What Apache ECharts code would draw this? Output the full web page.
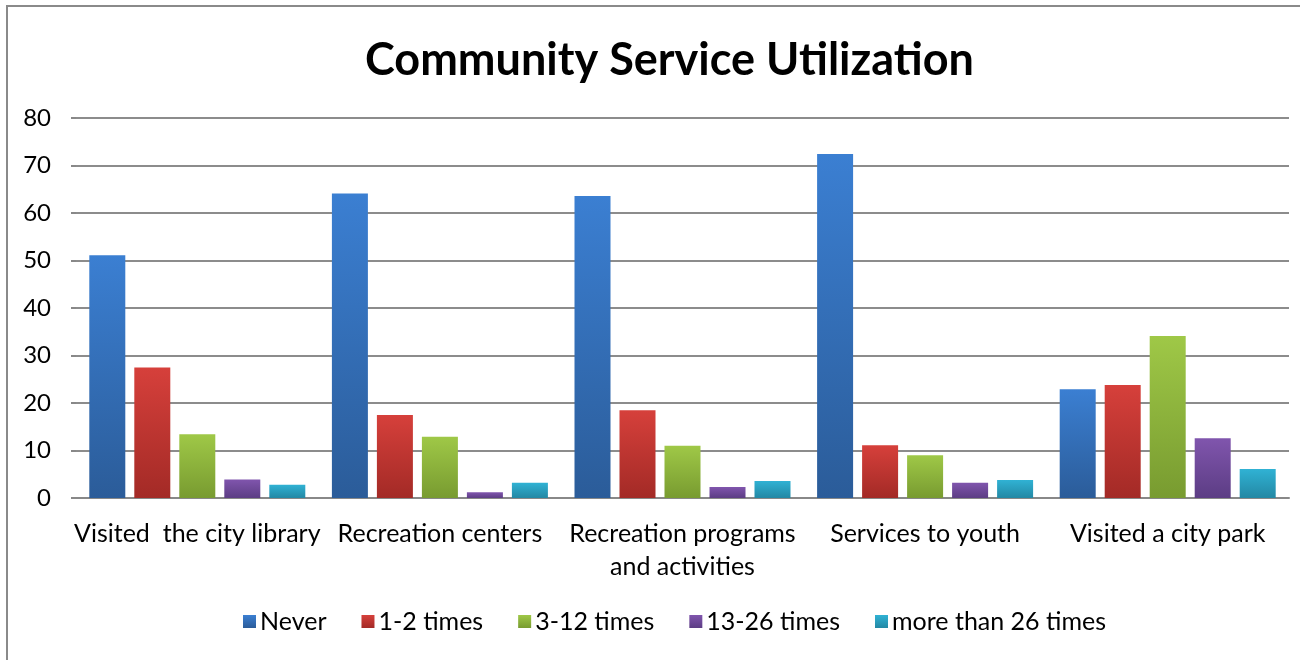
<!DOCTYPE html>
<html>
<head>
<meta charset="utf-8">
<title>Community Service Utilization</title>
<script src="https://cdn.jsdelivr.net/npm/echarts@6/dist/echarts.min.js"></script>
<style>
  html, body { margin: 0; padding: 0; background: #ffffff; }
  #chart { width: 1300px; height: 660px; }
</style>
</head>
<body>
<div id="chart"></div>
<script>
// Survey categories and frequency buckets
const categories = [
  'Visited  the city library',
  'Recreation centers',
  'Recreation programs\nand activities',
  'Services to youth',
  'Visited a city park'
];
const seriesNames = ['Never', '1-2 times', '3-12 times', '13-26 times', 'more than 26 times'];

// Percent of respondents per bucket, one array per frequency
const never       = [51.1, 64.1, 63.6, 72.4, 22.9];
const times1to2   = [27.5, 17.5, 18.5, 11.1, 23.8];
const times3to12  = [13.4, 12.9, 11.0,  9.0, 34.1];
const times13to26 = [ 3.9,  1.2,  2.3,  3.2, 12.6];
const over26      = [ 2.8,  3.2,  3.6,  3.8,  6.1];

const yTicks = { min: 0, max: 80, interval: 10 };

// Top/bottom gradient stops for each series
const palette = [
  ['#3b7fd2', '#2b5c99'],
  ['#d6403b', '#a32a26'],
  ['#9fc847', '#789b30'],
  ['#8055ad', '#5c3d84'],
  ['#30b2d4', '#2388a4']
];

const FONT = 'Lato';

function grad(c) {
  return new echarts.graphic.LinearGradient(0, 0, 0, 1, [
    { offset: 0, color: c[0] },
    { offset: 1, color: c[1] }
  ]);
}

const values = [never, times1to2, times3to12, times13to26, over26];

const chart = echarts.init(document.getElementById('chart'), null, { renderer: 'canvas' });

chart.setOption({
  backgroundColor: '#ffffff',
  animation: false,
  title: {
    text: 'Community Service Utilization',
    left: 360,
    top: 33,
    textStyle: { fontFamily: FONT, fontWeight: 'bold', fontSize: 45, color: '#000000' }
  },
  graphic: [{
    type: 'rect',
    shape: { x: 7, y: 6, width: 1400, height: 700 },
    style: { fill: 'none', stroke: '#8a8a8a', lineWidth: 2 },
    silent: true,
    z: -1
  }],
  legend: {
    bottom: 21,
    left: 238,
    itemWidth: 13,
    itemHeight: 13,
    itemGap: 35,
    icon: 'rect',
    textStyle: { fontFamily: FONT, fontSize: 25, color: '#000000', padding: [0, 0, 0, -1] },
    data: seriesNames
  },
  grid: { left: 76, right: 11, top: 118, bottom: 162, containLabel: false },
  xAxis: {
    type: 'category',
    data: categories,
    axisLine: { show: true, lineStyle: { color: '#888888', width: 2 } },
    axisTick: { show: false },
    axisLabel: {
      fontFamily: FONT, fontSize: 25, color: '#000000',
      margin: 19, lineHeight: 33, interval: 0
    }
  },
  yAxis: {
    type: 'value',
    min: yTicks.min,
    max: yTicks.max,
    interval: yTicks.interval,
    axisLine: { show: false },
    axisTick: { show: true, length: 5, lineStyle: { color: '#888888', width: 2 } },
    splitLine: { show: true, lineStyle: { color: '#8c8c8c', width: 2 } },
    axisLabel: { fontFamily: FONT, fontSize: 24, color: '#000000', margin: 25 }
  },
  series: seriesNames.map((name, i) => ({
    name: name,
    type: 'bar',
    data: values[i],
    barWidth: 36,
    barGap: '25%',
    barCategoryGap: '11%',
    itemStyle: { color: grad(palette[i]) }
  }))
});
</script>
</body>
</html>
